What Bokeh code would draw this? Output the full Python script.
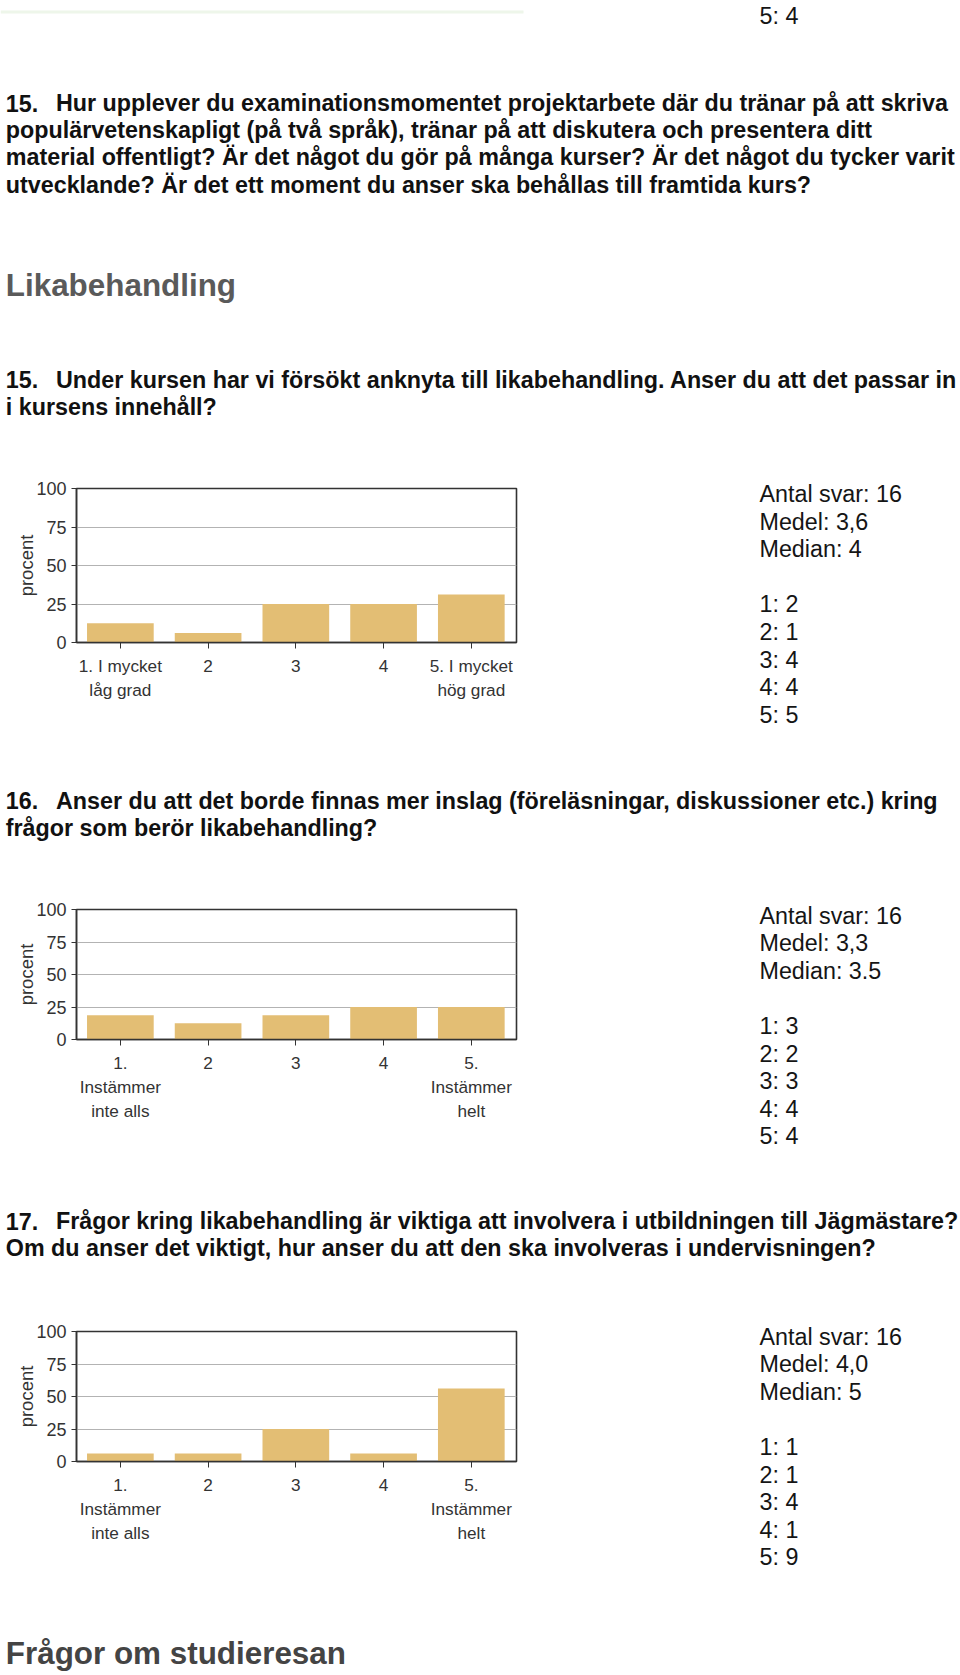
from bokeh.plotting import figure
from bokeh.layouts import column, row
from bokeh.models import Range1d, FixedTicker
from bokeh.core.properties import value
from bokeh.embed import file_html
from bokeh.resources import INLINE

FONT = "Liberation Sans"
BAR = "#E3BE74"

# ---------------- data ----------------
categories = [1, 2, 3, 4, 5]
y_ticks = [0, 25, 50, 75, 100]

q15_labels = ["1. I mycket\nlåg grad", "2", "3", "4", "5. I mycket\nhög grad"]
q16_labels = ["1.\nInstämmer\ninte alls", "2", "3", "4", "5.\nInstämmer\nhelt"]
q17_labels = ["1.\nInstämmer\ninte alls", "2", "3", "4", "5.\nInstämmer\nhelt"]

q15_pct = [12.5, 6.25, 25.0, 25.0, 31.25]
q16_pct = [18.75, 12.5, 18.75, 25.0, 25.0]
q17_pct = [6.25, 6.25, 25.0, 6.25, 56.25]

q15_counts = [2, 1, 4, 4, 5]
q16_counts = [3, 2, 3, 4, 4]
q17_counts = [1, 1, 4, 1, 9]

q15_summary = ["Antal svar: 16", "Medel: 3,6", "Median: 4"]
q16_summary = ["Antal svar: 16", "Medel: 3,3", "Median: 3.5"]
q17_summary = ["Antal svar: 16", "Medel: 4,0", "Median: 5"]

prev_tail = "5: 4"
q14_text = ["Hur upplever du examinationsmomentet projektarbete där du tränar på att skriva",
            "populärvetenskapligt (på två språk), tränar på att diskutera och presentera ditt",
            "material offentligt? Är det något du gör på många kurser? Är det något du tycker varit",
            "utvecklande? Är det ett moment du anser ska behållas till framtida kurs?"]
heading1 = "Likabehandling"
q15_text = ["Under kursen har vi försökt anknyta till likabehandling. Anser du att det passar in",
            "i kursens innehåll?"]
q16_text = ["Anser du att det borde finnas mer inslag (föreläsningar, diskussioner etc.) kring",
            "frågor som berör likabehandling?"]
q17_text = ["Frågor kring likabehandling är viktiga att involvera i utbildningen till Jägmästare?",
            "Om du anser det viktigt, hur anser du att den ska involveras i undervisningen?"]
heading2 = "Frågor om studieresan"

LINE = 27.2
STAT_LINE = 27.6
TXT = 23.3
HEAD = 31.4
PAGE_W = 960
CHART_W = 530


def noalign(p):
    if "frame_align" in p.properties():
        p.frame_align = False


def canvas(top, bottom, x0=0, width=PAGE_W):
    p = figure(width=width, height=bottom - top,
               x_range=Range1d(x0, x0 + width), y_range=Range1d(bottom, top),
               output_backend="svg", toolbar_location=None, min_border=0,
               x_axis_type=None, y_axis_type=None)
    p.grid.visible = False
    p.outline_line_color = None
    p.background_fill_color = "white"
    p.border_fill_color = "white"
    noalign(p)
    return p


def put(p, x, y, txt, size=TXT, bold=False, color="#111111"):
    p.text(x=[x], y=[y], text=[txt], text_font=value(FONT),
           text_font_size=f"{size}px", text_font_style="bold" if bold else "normal",
           text_color=color, text_baseline="middle", text_align="left")


def question(p, num, lines, y0):
    put(p, 5.3, y0, num, bold=True)
    for i, ln in enumerate(lines):
        put(p, 55.5 if i == 0 else 5.3, y0 + i * LINE, ln, bold=True)


def stats(p, summary, counts, y0):
    lines = summary + [""] + [f"{c}: {n}" for c, n in zip(categories, counts)]
    for i, s in enumerate(lines):
        if s:
            put(p, 759, y0 + i * STAT_LINE, s, color="#151515")


def chart(pct, labels, top_b, frame_h, bottom_b):
    p = figure(width=CHART_W, height=top_b + frame_h + bottom_b,
               x_range=Range1d(0.5, 5.515), y_range=Range1d(0, 100),
               output_backend="svg", toolbar_location=None,
               min_border_left=76, min_border_right=CHART_W - 516,
               min_border_top=top_b, min_border_bottom=bottom_b)
    noalign(p)
    p.vbar(x=categories, top=pct, bottom=0, width=0.76, fill_color=BAR, line_color=None)
    p.background_fill_color = "white"
    p.border_fill_color = "white"
    p.outline_line_color = "#333333"
    p.outline_line_width = 1.6
    p.xgrid.visible = False
    p.ygrid.grid_line_color = "#B3B3B3"
    p.ygrid.grid_line_width = 1

    ya = p.yaxis[0]
    ya.ticker = FixedTicker(ticks=y_ticks)
    ya.axis_label = "procent"
    ya.axis_label_text_font = FONT
    ya.axis_label_text_font_style = "normal"
    ya.axis_label_text_font_size = "18.5px"
    ya.axis_label_text_color = "#333333"
    ya.axis_label_standoff = -4
    ya.major_label_text_font = FONT
    ya.major_label_text_font_size = "18px"
    ya.major_label_text_color = "#333333"
    ya.major_label_standoff = 5
    ya.major_tick_in = 0
    ya.major_tick_out = 5
    ya.minor_tick_line_color = None
    ya.axis_line_color = "#333333"
    ya.axis_line_width = 1.5
    ya.major_tick_line_color = "#333333"

    xa = p.xaxis[0]
    xa.ticker = FixedTicker(ticks=categories)
    xa.major_label_overrides = {c: lab for c, lab in zip(categories, labels)}
    xa.major_label_text_font = FONT
    xa.major_label_text_font_size = "17.2px"
    xa.major_label_text_color = "#333333"
    xa.major_label_text_line_height = 1.2
    xa.major_label_standoff = 7
    xa.major_tick_in = 0
    xa.major_tick_out = 6
    xa.minor_tick_line_color = None
    xa.axis_line_color = "#333333"
    xa.axis_line_width = 1.5
    xa.major_tick_line_color = "#333333"
    return p


# ---------------- blocks ----------------
t1 = canvas(0, 470)
t1.segment(x0=[0], y0=[11.5], x1=[523], y1=[11.5], line_color="#EEF6EA", line_width=3)
put(t1, 759, 15, prev_tail, color="#151515")
question(t1, "15.", q14_text, 102.5)
put(t1, 5.3, 285, heading1, size=HEAD, bold=True, color="#5A5A5A")
question(t1, "15.", q15_text, 379)

c1 = chart(q15_pct, q15_labels, 18, 154, 93)
s1 = canvas(470, 735, x0=CHART_W, width=PAGE_W - CHART_W)
stats(s1, q15_summary, q15_counts, 493.5)

t2 = canvas(735, 880)
question(t2, "16.", q16_text, 800)

c2 = chart(q16_pct, q16_labels, 29, 130, 121)
s2 = canvas(880, 1160, x0=CHART_W, width=PAGE_W - CHART_W)
stats(s2, q16_summary, q16_counts, 915)

t3 = canvas(1160, 1300)
question(t3, "17.", q17_text, 1220.6)

c3 = chart(q17_pct, q17_labels, 31, 130, 119)
s3 = canvas(1300, 1580, x0=CHART_W, width=PAGE_W - CHART_W)
stats(s3, q17_summary, q17_counts, 1336)

t4 = canvas(1580, 1675)
put(t4, 5.3, 1653, heading2, size=HEAD, bold=True, color="#444444")

page = column(t1, row(c1, s1, spacing=0), t2, row(c2, s2, spacing=0), t3,
              row(c3, s3, spacing=0), t4, spacing=0)

open("out.html", "w").write(file_html(page, INLINE))
